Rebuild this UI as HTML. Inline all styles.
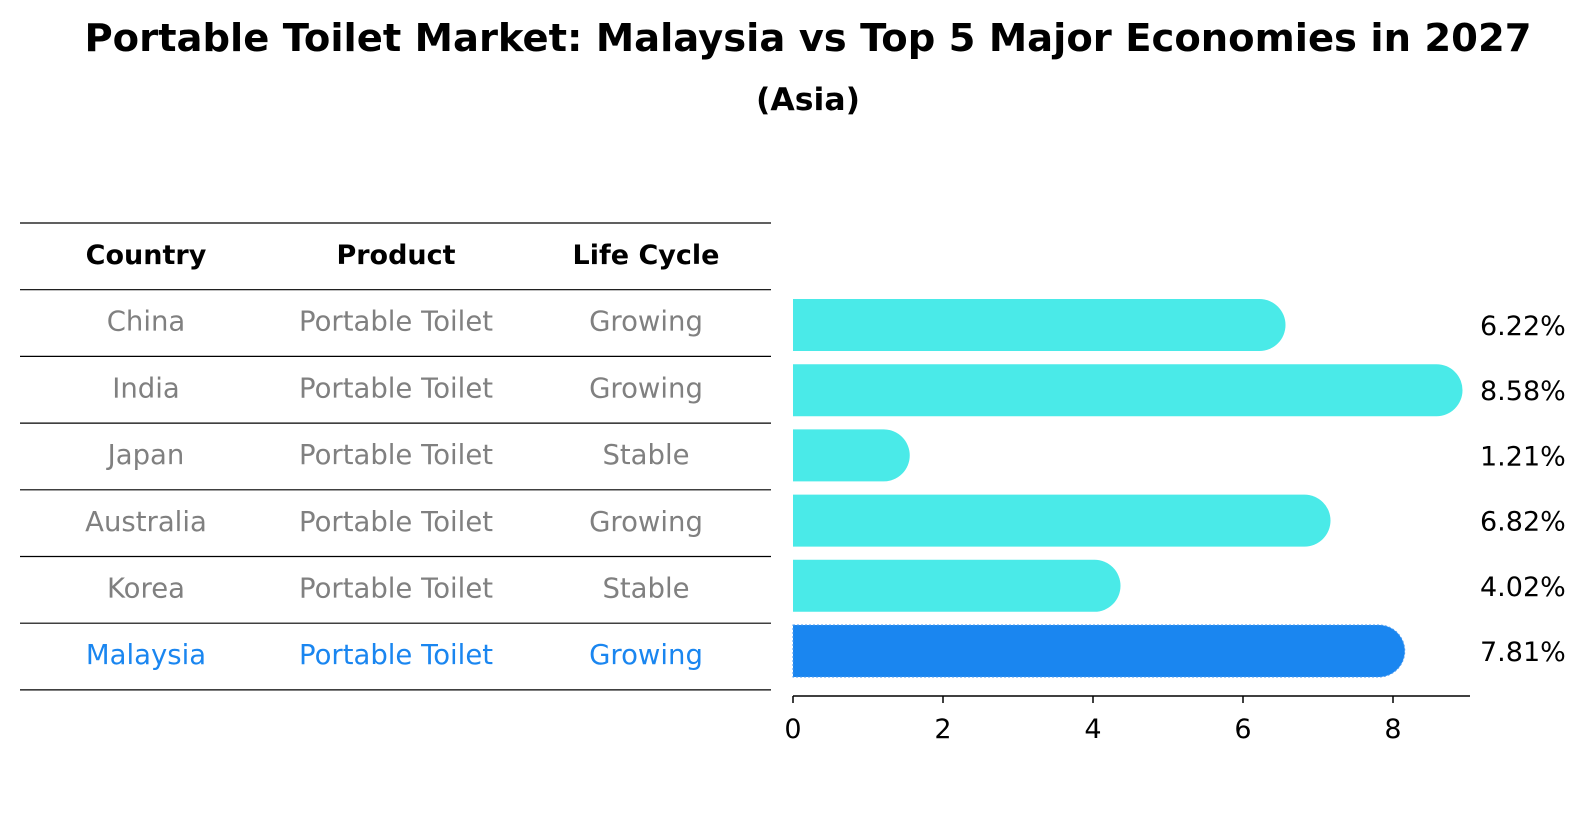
<!DOCTYPE html>
<html><head><meta charset="utf-8"><style>
body{margin:0;background:#fff;font-family:"DejaVu Sans","Liberation Sans",sans-serif;}
</style></head><body>
<svg width="1586" height="823" xmlns="http://www.w3.org/2000/svg" font-family="DejaVu Sans, Liberation Sans, sans-serif">
<text x="808" y="51" text-anchor="middle" font-size="38.5" font-weight="bold">Portable Toilet Market: Malaysia vs Top 5 Major Economies in 2027</text>
<text x="808" y="110" text-anchor="middle" font-size="31.5" font-weight="bold">(Asia)</text>
<g id="table"></g>
<g id="bars"></g>
</svg>
<script>
const countries=["China","India","Japan","Australia","Korea","Malaysia"];
const products=["Portable Toilet","Portable Toilet","Portable Toilet","Portable Toilet","Portable Toilet","Portable Toilet"];
const lifecycles=["Growing","Growing","Stable","Growing","Stable","Growing"];
const values=[6.22,8.58,1.21,6.82,4.02,7.81];
const ticks=[0,2,4,6,8];
const NS="http://www.w3.org/2000/svg";
function mk(tag,attrs,parent,text){const e=document.createElementNS(NS,tag);for(const k in attrs)e.setAttribute(k,attrs[k]);if(text!==undefined)e.textContent=text;parent.appendChild(e);return e;}
const tb=document.getElementById('table');
const lineY=i=>223+i*66.7;
for(let i=0;i<=countries.length+1;i++){
  const l=mk('line',{x1:20,x2:771,y1:lineY(i),y2:lineY(i),stroke:'#000','stroke-width':1.2},tb);
  
  
}
const colX=[146,396,646];
const heads=["Country","Product","Life Cycle"];
heads.forEach((h,j)=>{
  const t=mk('text',{x:colX[j],y:lineY(0)+41,'text-anchor':'middle','font-size':27,'font-weight':'bold'},tb,h);
  
  
});
countries.forEach((c,i)=>{
  const col=c==="Malaysia"?'#1a86f0':'#808080';
  [c,products[i],lifecycles[i]].forEach((v,j)=>{
    const t=mk('text',{x:colX[j],y:lineY(i+1)+41,'text-anchor':'middle','font-size':27.5,fill:col},tb,v);
    
    
  });
});
const bg=document.getElementById('bars');
const x0=793,ppu=75;
const xs=v=>x0+v*ppu;
const yc=i=>325+i*65.2;
const bh=52,r=26;
values.forEach((v,i)=>{
  const mal=countries[i]==="Malaysia";
  const col=mal?'#1a86f0':'#4aeae8';
  const xe=xs(v), top=yc(i)-bh/2;
  const d=`M${x0},${top} H${xe} A${r},${r} 0 0 1 ${xe},${top+bh} H${x0} Z`;
  const p=mk('path',{d:d,fill:col},bg);
  if(mal){p.setAttribute('stroke','#4a9af0');p.setAttribute('stroke-dasharray','2,2');p.setAttribute('stroke-width','1');}
  
  
  const t=mk('text',{x:1480,y:yc(i)+10,'font-size':27},bg,v.toFixed(2)+'%');
  
  
});
const ax=mk('line',{x1:x0,x2:1470,y1:696,y2:696,stroke:'#000','stroke-width':1.5},bg);


ticks.forEach(t=>{
  const l=mk('line',{x1:xs(t),x2:xs(t),y1:696,y2:703,stroke:'#000','stroke-width':1.5},bg);
  
  
  const tx=mk('text',{x:xs(t),y:738,'text-anchor':'middle','font-size':27},bg,String(t));
  
  
});
</script>
</body></html>
